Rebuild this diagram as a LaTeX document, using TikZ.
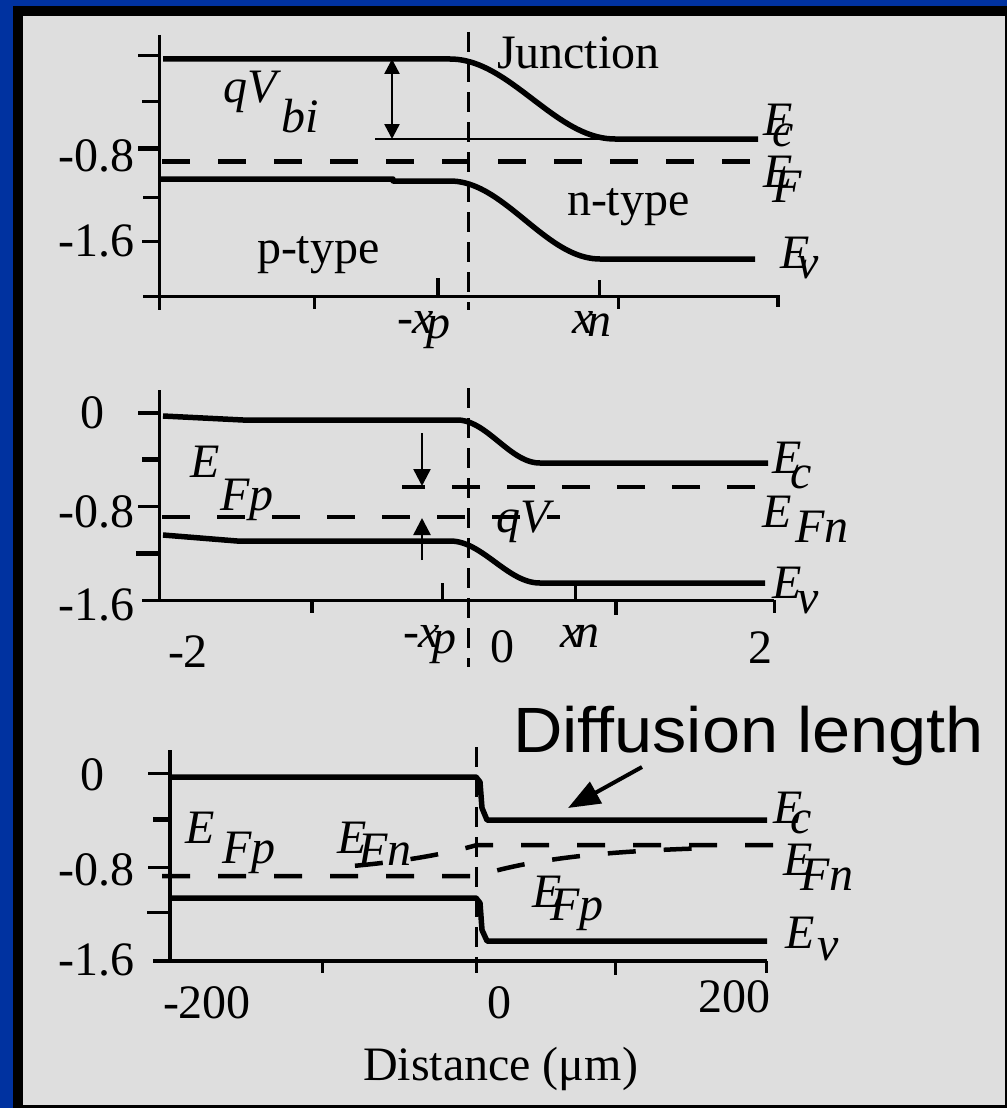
\documentclass[tikz,border=0pt]{standalone}
\usepackage{fontspec}
\setmainfont{Liberation Serif}
\newfontfamily\arialfont{Liberation Sans}
\usetikzlibrary{arrows.meta}
\definecolor{frameblue}{RGB}{0,50,160}
\definecolor{panelgray}{RGB}{222,222,222}
\newcommand{\sublab}[4]{\textit{#1}\kern#3pt\raisebox{-#4pt}{\textit{#2}}}
\begin{document}
\begin{tikzpicture}[x=1pt,y=-1pt,
  every node/.style={inner sep=0pt,outer sep=0pt,font=\fontsize{48}{56}\selectfont},
  lbl/.style={anchor=base west},
  lble/.style={anchor=base east},
  band/.style={line width=5.5pt,line join=round},
  axisline/.style={line width=3pt},
  tickthin/.style={line width=3pt},
  tickthick/.style={line width=5pt},
  junc/.style={line width=3pt,dash pattern=on 20pt off 10pt},
  fermi/.style={line width=4.5pt,dash pattern=on 28pt off 28pt},
  fermithin/.style={line width=3.5pt,dash pattern=on 28pt off 27pt},
  tipa/.style={-{Triangle[length=17pt,width=17pt]}},
  arrline/.style={line width=2.5pt}]
\useasboundingbox (0,0) rectangle (1007,1108);
\fill[frameblue] (0,0) rectangle (1007,1108);
\fill[black] (13,6) rectangle (1007,1108);
\fill[panelgray] (23,16) rectangle (1005,1105);

% ================= TOP PLOT =================
\draw[axisline] (159,35) -- (159,310);
\draw[axisline] (143,296) -- (780,296);
\draw[tickthin] (138,56) -- (159,56);
\draw[tickthin] (142,101) -- (159,101);
\draw[tickthick] (138,148) -- (159,148);
\draw[tickthin] (143,197) -- (159,197);
\draw[tickthin] (142,241) -- (159,241);
\draw[tickthin] (314,296) -- (314,309);
\draw[line width=4pt] (438,278) -- (438,296);
\draw[tickthin] (599,280) -- (599,296);
\draw[tickthin] (618,296) -- (618,309);
\draw[line width=4pt] (778,296) -- (778,307);
\draw[junc] (468,32) -- (468,310);
% Ec
\draw[band] (163,59) -- (450,59) -- plot[domain=0:1,samples=40] ({450+165*\x},{59+80*(1-cos(180*\x))/2}) -- (758,139);
% thin reference line
\draw[line width=2pt] (375,139) -- (615,139);
% EF
\draw[line width=5pt,dash pattern=on 28pt off 28pt] (162,161) -- (750,161);
% Ev
\draw[band] (161,179) -- (393,179) -- (393,181) -- (450,181) -- plot[domain=0:1,samples=40] ({450+150*\x},{181+78*(1-cos(180*\x))/2}) -- (755,259);
% double arrow
\draw[arrline,{Triangle[length=15pt,width=15pt]}-{Triangle[length=15pt,width=15pt]}] (392,59) -- (392,139);
% labels
\node[lbl] (junction) at (497,68) {Junction};
\node[lbl] (qvbi) at (223,102) {\sublab{qV}{bi}{1}{31}};
\node[lbl] (ec1) at (763,135) {\sublab{E}{c}{-20}{11}};
\node[lbl] (ef1) at (763,187) {\sublab{E}{F}{-20}{15}};
\node[lbl] (ev1) at (780,268) {\sublab{E}{v}{-12}{10}};
\node[lbl] (ptype) at (257,263) {p-type};
\node[lbl] (ntype) at (567,215) {n-type};
\node[lbl] (xp1) at (397,333) {-\sublab{x}{p}{-8}{5}};
\node[lbl] (xn1) at (572,333) {\sublab{x}{n}{-6}{3}};
\node[lble] (ya1) at (134,171) {-0.8};
\node[lble] (yb1) at (134,256) {-1.6};

% ================= MIDDLE PLOT =================
\draw[axisline] (159,390) -- (159,600);
\draw[axisline] (142,600) -- (774,600);
\draw[line width=4pt] (138,413) -- (159,413);
\draw[tickthick] (142,459) -- (159,459);
\draw[tickthin] (138,506) -- (159,506);
\draw[tickthick] (136,553) -- (159,553);
\draw[line width=4pt] (312,600) -- (312,613);
\draw[tickthin] (442,583) -- (442,600);
\draw[tickthin] (575,586) -- (575,600);
\draw[line width=4pt] (616,600) -- (616,615);
\draw[tickthin] (774,600) -- (774,613);
\draw[junc] (468,388) -- (468,667);
% Ec
\draw[band] (163,416) -- (243,420) -- (457,420) -- plot[domain=0:1,samples=40] ({457+83*\x},{420+43*(1-cos(180*\x))/2}) -- (768,463);
% EFn
\draw[fermithin] (755,487) -- (402,487);
% EFp
\draw[fermithin] (162,517) -- (560,517);
% Ev
\draw[band] (163,535) -- (237,541) -- (450,541) -- plot[domain=0:1,samples=40] ({450+90*\x},{541+42*(1-cos(180*\x))/2}) -- (765,583);
% arrows
\draw[arrline,tipa] (422,433) -- (422,486);
\draw[arrline,tipa] (422,560) -- (422,518);
% labels
\node[lbl] (efp2) at (190,477) {\sublab{E}{Fp}{1}{33}};
\node[lbl] (qv2) at (496,532) {\textit{qV}};
\node[lbl] (ec2) at (772,473) {\sublab{E}{c}{-11}{15}};
\node[lbl] (efn2) at (762,527) {\sublab{E}{Fn}{4}{15}};
\node[lbl] (ev2) at (772,598) {\sublab{E}{v}{-4}{15}};
\node[lbl] (m2) at (168,667) {-2};
\node[lbl] (xp2) at (403,647) {-\sublab{x}{p}{-8}{6}};
\node[lbl] (z2) at (490,662) {0};
\node[lbl] (xn2) at (560,647) {\sublab{x}{n}{-6}{0}};
\node[lbl] (p2) at (748,663) {2};
\node[lbl] (y02) at (80,428) {0};
\node[lble] (ya2) at (134,527) {-0.8};
\node[lble] (yb2) at (134,620) {-1.6};

% ================= BOTTOM PLOT =================
\draw[line width=4pt] (170,750) -- (170,962);
\draw[line width=4pt] (153,961) -- (767,961);
\draw[tickthin] (148,773) -- (170,773);
\draw[tickthick] (153,819) -- (170,819);
\draw[tickthin] (148,867) -- (170,867);
\draw[tickthin] (147,912) -- (170,912);
\draw[tickthin] (322,961) -- (322,973);
\draw[tickthin] (615,961) -- (615,975);
\draw[tickthin] (766,961) -- (766,973);
\draw[junc] (476,747) -- (476,973);
% Ec
\draw[band] (172,777) -- (476,777) -- (480,782) -- (482,808) -- (487,820) -- (767,820);
% Ev
\draw[band] (172,898) -- (476,898) -- (480,903) -- (482,930) -- (487,941) -- (767,941);
% EFp
\draw[fermi] (162,876) -- (477,876) -- plot[domain=477:700,samples=40] (\x,{845+31*exp(-(\x-477)/100)});
% EFn
\draw[fermi] (773,845) -- (477,845) -- plot[domain=477:330,samples=40] (\x,{876-31*exp((\x-477)/110)});
% diffusion arrow
\coordinate (dtail) at (642,767);
\coordinate (dtip) at (568,808);
\draw[line width=4pt,-{Triangle[length=32pt,width=24pt]}] (dtail) -- (dtip);
% labels
\node[lbl,font=\arialfont\fontsize{64}{74}\selectfont] (diff) at (513,752) {\scalebox{1.07}[1]{Diffusion length}};
\node[lbl] (efp3) at (185,843) {\sublab{E}{Fp}{8}{20}};
\node[lbl] (efn3) at (337,853) {\sublab{E}{Fn}{-8}{12}};
\node[lbl] (ec3) at (773,823) {\sublab{E}{c}{-12}{10}};
\node[lbl] (efn3r) at (783,875) {\sublab{E}{Fn}{-12}{15}};
\node[lbl] (efp3n) at (532,907) {\sublab{E}{Fp}{-11}{13}};
\node[lbl] (ev3) at (785,948) {\sublab{E}{v}{3}{12}};
\node[lbl] (m3) at (163,1018) {-200};
\node[lbl] (z3) at (487,1018) {0};
\node[lbl] (p3) at (698,1012) {200};
\node[lbl] (dist) at (363,1080) {Distance (μm)};
\node[lbl] (y03) at (80,790) {0};
\node[lble] (ya3) at (134,885) {-0.8};
\node[lble] (yb3) at (134,975) {-1.6};
\end{tikzpicture}
\end{document}
